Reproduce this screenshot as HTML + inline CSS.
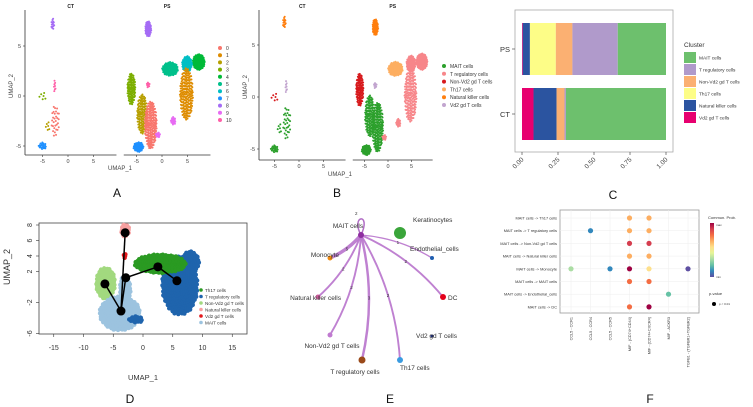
<!DOCTYPE html>
<html><head><meta charset="utf-8">
<style>
html,body{margin:0;padding:0;background:#fff;}
svg{display:block;font-family:"Liberation Sans",sans-serif;}
</style></head>
<body>
<svg id="fig" width="753" height="407" viewBox="0 0 753 407" xmlns="http://www.w3.org/2000/svg">
<g id="pA"></g>
<g id="pB"></g>
<g id="pC"></g>
<g id="pD"></g>
<g id="pE"></g>
<g id="pF"></g>
</svg>
<script>
// ---------- DATA ----------
// Panel A clusters: [panel(0=CT,1=PS), cluster id, cx, cy, rx, ry, n]
const aClusters = [
 [0,8,-3,7.2,0.3,0.6,14],[0,10,-2.6,1.0,0.2,0.6,8],[0,0,-2.5,-2.5,0.8,1.6,30],[0,2,-4,-3,0.4,0.6,6],
 [0,3,-5,0,0.7,0.5,6],[0,7,-5,-5,0.8,0.35,20],
 [1,8,-2.7,6.7,0.6,0.8,70],[1,4,7.2,3.4,1.2,0.8,150],[1,6,4.9,3.2,1.0,0.8,90],[1,5,1.6,2.7,1.6,0.7,110],
 [1,1,4.8,0.2,1.3,2.6,220],[1,3,-6.0,0.7,0.8,1.6,120],[1,2,-3.9,-1.8,1.0,2.0,150],[1,0,-2.2,-2.9,1.2,2.4,230],
 [1,7,-4.6,-5.1,1.0,0.5,60],[1,9,2.2,-2.5,0.5,0.4,20],[1,9,-0.8,-3.9,0.5,0.25,12],[1,10,-2.7,1.1,0.3,0.3,10]
];
const aColors = ["#F8766D","#DE8C00","#B79F00","#7CAE00","#00BA38","#00C08B","#00BFC4","#1E90FF","#A56CF5","#E76BF3","#FF5FA8"];
const aLegend = ["0","1","2","3","4","5","6","7","8","9","10"];
// Panel B cell types
const bTypes = ["MAIT cells","T regulatory cells","Non-Vd2 gd T cells","Th17 cells","Natural killer cells","Vd2 gd T cells"];
const bColors = ["#2ca02c","#f7868a","#d7191c","#fdae61","#ff7f0e","#c2a5cf"];
// cluster -> cell type index
const clusterToType = [0,1,0,2,1,3,1,0,4,1,5];
// Panel C
const cCats = ["PS","CT"];
const cOrder = ["Vd2 gd T cells","Natural killer cells","Th17 cells","Non-Vd2 gd T cells","T regulatory cells","MAIT cells"];
const cColorsOrder = ["#e7006f","#2b54a0","#fdfd87","#fbb072","#b09acb","#6dc06d"];
const cPS = [0.005,0.05,0.18,0.115,0.315,0.335];
const cCT = [0.08,0.16,0.0,0.055,0.01,0.695];
const cTicks = [0,0.25,0.5,0.75,1];
const cTickLabels = ["0.00","0.25","0.50","0.75","1.00"];
const cLegend = ["MAIT cells","T regulatory cells","Non-Vd2 gd T cells","Th17 cells","Natural killer cells","Vd2 gd T cells"];
const cLegendColors = ["#6dc06d","#b09acb","#fbb072","#fdfd87","#2b54a0","#e7006f"];
// Panel D
const dTypes = ["Th17 cells","T regulatory cells","Non-Vd2 gd T cells","Natural killer cells","Vd2 gd T cells","MAIT cells"];
const dColors = ["#2a9a22","#1f64ad","#a2d97f","#f7a0a0","#e3181c","#9cc3df"];
// [type, cx, cy, rx, ry, n]
const dClusters = [
 [1,6.2,0.2,3.0,3.8,320],[1,7.9,3.2,1.5,1.4,90],[0,2.9,3.0,4.3,1.2,240],[2,-6.3,0.5,1.6,2.0,140],
 [5,-3.9,-3.4,3.4,2.2,320],[5,-3.0,-0.3,0.9,1.8,70],[3,-3,7.3,0.7,0.8,30],[4,-3.1,4.0,0.25,0.3,4],[1,-1.2,-4.2,1.2,0.4,20]
];
const dNodesX = [-6.4,-3.7,-3.0,-2.9,2.5,5.7];
const dNodesY = [0.4,-3.1,7.0,1.2,2.6,0.8];
const dEdges = [[0,1],[1,2],[1,3],[3,4],[4,5]];
const dXTicks = [-15,-10,-5,0,5,10,15];
const dYTicks = [-6,-2,2,4,6,8];
// Panel E
const eNodes = ["MAIT cells","Keratinocytes","Endothelial_cells","DC","Vd2 gd T cells","Th17 cells","T regulatory cells","Non-Vd2 gd T cells","Natural killer cells","Monocyte"];
const eX = [361,400,432,443,432,400,362,330,318,330];
const eY = [235,233,258,297,336,360,360,335,297,258];
const eR = [3,6,2,3,1.5,3,3.5,2.5,2.5,2.5];
const eCol = ["#8e2ea0","#3aa53a","#1f5fb0","#e3001b","#1a2a80","#3a9be0","#9a4a1a","#c07ad0","#e062a8","#f08a10"];
const eWeights = [2,0,1,2,0,2,3,2,2,5];
// Panel F
const fRows = ["MAIT cells -> Th17 cells","MAIT cells -> T regulatory cells","MAIT cells -> Non-Vd2 gd T cells","MAIT cells -> Natural killer cells","MAIT cells -> Monocyte","MAIT cells -> MAIT cells","MAIT cells -> Endothelial_cells","MAIT cells -> DC"];
const fCols = ["CCL5 - CCR1","CCL5 - CCR4","CCL5 - CCR5","MIF - (CD74+CD44)","MIF - (CD74+CXCR4)","MIF - ACKR3","TGFB1 - (TGFBR1+TGFBR2)"];
// [row, col, prob 0..1]
const fDots = [[0,3,0.7],[0,4,0.66],[1,1,0.12],[1,3,0.7],[1,4,0.62],[2,3,0.85],[2,4,0.85],[3,3,0.68],[3,4,0.64],
 [4,0,0.35],[4,2,0.13],[4,3,1.0],[4,4,0.55],[4,6,0.02],[5,3,0.76],[5,4,0.76],[6,5,0.2],[7,3,0.75],[7,4,0.95]];

// ---------- HELPERS ----------
const NS="http://www.w3.org/2000/svg";
function mk(tag,attrs,parent){const e=document.createElementNS(NS,tag);for(const k in attrs)e.setAttribute(k,attrs[k]);if(parent)parent.appendChild(e);return e;}
function txt(parent,x,y,s,size,opts){const t=mk("text",Object.assign({x:x,y:y,"font-size":size,fill:"#222"},opts||{}),parent);t.textContent=s;return t;}
function spiral(n,cb){for(let i=0;i<n;i++){const r=Math.sqrt((i+0.5)/n);const th=i*2.39996;cb(r*Math.cos(th),r*Math.sin(th));}}
function spectral(p){const stops=["#5e4fa2","#3288bd","#66c2a5","#abdda4","#e6f598","#fee08b","#fdae61","#f46d43","#d53e4f","#9e0142"];
 const i=Math.min(stops.length-1,Math.round(p*(stops.length-1)));return stops[i];}

// ---------- PANEL A & B ----------
function umapPanel(g,xCT,xPS,x0CT,x0PS,yS,y0,left,bottom,colorFn,legendItems,legendColors,lx,ly,lstep,label,labX,umapY){
 const sx=(p,v)=>p===0?x0CT+xCT*v:x0PS+xPS*v;const sy=v=>y0-yS*v;
 mk("line",{x1:left,y1:10,x2:left,y2:bottom,stroke:"#333","stroke-width":0.8},g);
 const ctEnd=sx(0,9.5),psStart=sx(1,-7.5);
 mk("line",{x1:left,y1:bottom,x2:ctEnd,y2:bottom,stroke:"#333","stroke-width":0.8},g);
 mk("line",{x1:psStart,y1:bottom,x2:sx(1,9.5),y2:bottom,stroke:"#333","stroke-width":0.8},g);
 [5,0,-5].forEach(v=>{mk("line",{x1:left-2,y1:sy(v),x2:left,y2:sy(v),stroke:"#333","stroke-width":0.6},g);txt(g,left-4,sy(v)+2,String(v),5.5,{"text-anchor":"end",fill:"#444"});});
 [0,1].forEach(p=>[-5,0,5].forEach(v=>{mk("line",{x1:sx(p,v),y1:bottom,x2:sx(p,v),y2:bottom+2,stroke:"#333","stroke-width":0.6},g);txt(g,sx(p,v),bottom+8,String(v),5.5,{"text-anchor":"middle",fill:"#444"});}));
 txt(g,(left+ctEnd)/2,8,"CT",5,{"text-anchor":"middle","font-weight":"bold"});
 txt(g,(psStart+sx(1,9.5))/2,8,"PS",5,{"text-anchor":"middle","font-weight":"bold"});
 txt(g,labX,umapY,"UMAP_1",6,{"text-anchor":"middle",fill:"#444"});
 txt(g,left-12,y0-10,"UMAP_2",6,{"text-anchor":"middle",fill:"#444",transform:`rotate(-90 ${left-12} ${y0-10})`});
 aClusters.forEach(c=>{const col=colorFn(c[1]);spiral(c[6],(dx,dy)=>{
   const d=mk("circle",{cx:sx(c[0],c[2]+c[4]*dx),cy:sy(c[3]+c[5]*dy),r:1.0,fill:col},g);
   
   });});
 legendItems.forEach((s,i)=>{mk("circle",{cx:lx,cy:ly+i*lstep,r:2,fill:legendColors[i]},g);txt(g,lx+6,ly+i*lstep+2,s,5,{fill:"#333"});});
 txt(g,labX-3,197,label,12,{"text-anchor":"middle",fill:"#111"});
}
const gA=document.getElementById("pA");
umapPanel(gA,5.1,5.1,68,162,10,96,25,155,k=>aColors[k],aLegend,aColors,220,48,7.2,"A",120,170);
const gB=document.getElementById("pB");
umapPanel(gB,4.9,4.7,299,388,10.4,97,259,160,k=>bColors[clusterToType[k]],bTypes,bColors,444,66,7.8,"B",340,176);

// ---------- PANEL C ----------
const gC=document.getElementById("pC");
const cx0=522,cx1=666;const cxS=v=>cx0+(cx1-cx0)*v;
mk("rect",{x:515,y:10,width:158,height:142,fill:"#fff",stroke:"#aaa","stroke-width":0.8},gC);
const cBarsY=[23,88];
[cPS,cCT].forEach((vals,ci)=>{let acc=0;vals.forEach((v,k)=>{if(v>0){const r=mk("rect",{x:cxS(acc),y:cBarsY[ci],width:cxS(acc+v)-cxS(acc),height:52,fill:cColorsOrder[k]},gC);
 
 }acc+=v;});
 txt(gC,510,cBarsY[ci]+29,cCats[ci],7.5,{"text-anchor":"end",fill:"#333"});
 mk("line",{x1:512,y1:cBarsY[ci]+26,x2:515,y2:cBarsY[ci]+26,stroke:"#333","stroke-width":0.6},gC);});
cTicks.forEach((v,i)=>{mk("line",{x1:cxS(v),y1:152,x2:cxS(v),y2:155,stroke:"#333","stroke-width":0.6},gC);
 txt(gC,cxS(v)+2,160,cTickLabels[i],6.5,{"text-anchor":"end",fill:"#444",transform:`rotate(-45 ${cxS(v)+2} 160)`});});
txt(gC,684,47,"Cluster",6.5,{fill:"#333"});
cLegend.forEach((s,i)=>{mk("rect",{x:684,y:52+i*12,width:12,height:11,fill:cLegendColors[i]},gC);txt(gC,699,59.5+i*12,s,4.8,{fill:"#333"});});
txt(gC,613,199,"C",12,{"text-anchor":"middle",fill:"#111"});

// ---------- PANEL D ----------
const gD=document.getElementById("pD");
const dxS=v=>143+5.95*v, dyS=v=>287-7.75*v;
mk("rect",{x:39,y:223,width:208,height:111,fill:"#fff",stroke:"#444","stroke-width":0.8},gD);
dClusters.forEach(c=>spiral(c[5],(dx,dy)=>{const d=mk("circle",{cx:dxS(c[1]+c[3]*dx),cy:dyS(c[2]+c[4]*dy),r:2.2,fill:dColors[c[0]]},gD);
 
 }));
dEdges.forEach(e=>mk("line",{x1:dxS(dNodesX[e[0]]),y1:dyS(dNodesY[e[0]]),x2:dxS(dNodesX[e[1]]),y2:dyS(dNodesY[e[1]]),stroke:"#000","stroke-width":1.5},gD));
dNodesX.forEach((x,i)=>{const n=mk("circle",{cx:dxS(x),cy:dyS(dNodesY[i]),r:4.5,fill:"#000"},gD);
 
 });
dXTicks.forEach(v=>{mk("line",{x1:dxS(v),y1:334,x2:dxS(v),y2:337,stroke:"#333","stroke-width":0.6},gD);txt(gD,dxS(v),350,String(v),7,{"text-anchor":"middle",fill:"#333"});});
dYTicks.forEach(v=>{mk("line",{x1:36,y1:dyS(v),x2:39,y2:dyS(v),stroke:"#333","stroke-width":0.6},gD);txt(gD,32,dyS(v),String(v),7,{"text-anchor":"middle",fill:"#333",transform:`rotate(-90 32 ${dyS(v)})`});});
txt(gD,143,380,"UMAP_1",7.5,{"text-anchor":"middle",fill:"#333"});
txt(gD,10,267,"UMAP_2",9,{"text-anchor":"middle",fill:"#333",transform:"rotate(-90 10 267)"});
dTypes.forEach((s,i)=>{mk("circle",{cx:201,cy:290+i*6.5,r:1.8,fill:dColors[i]},gD);txt(gD,205,292+i*6.5,s,4.6,{fill:"#333"});});
txt(gD,130,403,"D",12,{"text-anchor":"middle",fill:"#111"});

// ---------- PANEL E ----------
const gE=document.getElementById("pE");
mk("path",{d:`M361 235 C350 215 372 212 361 235`,fill:"none",stroke:"#b06cc4","stroke-width":1.5},gE);
txt(gE,355,215,"2",4.5,{fill:"#333"});
eNodes.forEach((s,i)=>{if(i===0||eWeights[i]===0)return;const w=eWeights[i];
 const mx=(eX[0]+eX[i])/2,my=(eY[0]+eY[i])/2;const dx=eX[i]-eX[0],dy=eY[i]-eY[0];
 const qx=mx+dy*0.12,qy=my-dx*0.12;
 const p=mk("path",{d:`M${eX[0]} ${eY[0]} Q${qx} ${qy} ${eX[i]} ${eY[i]}`,fill:"none",stroke:"#b873cc","stroke-width":0.8+w*0.55,"stroke-opacity":0.9},gE);
 
 
 txt(gE,(mx+qx)/2,(my+qy)/2+2,String(w),4.5,{fill:"#333","text-anchor":"middle"});});
eNodes.forEach((s,i)=>{const c=mk("circle",{cx:eX[i],cy:eY[i],r:eR[i],fill:eCol[i]},gE);
 
 });
const eLab=[[348,228,"middle"],[413,222,"start"],[410,251,"start"],[448,300,"start"],[416,338,"start"],[400,370,"start"],[355,374,"middle"],[332,348,"middle"],[341,300,"end"],[339,257,"end"]];
eNodes.forEach((s,i)=>txt(gE,eLab[i][0],eLab[i][1],s,6.5,{"text-anchor":eLab[i][2],fill:"#333"}));
txt(gE,390,403,"E",12,{"text-anchor":"middle",fill:"#111"});

// ---------- PANEL F ----------
const gF=document.getElementById("pF");
const fx=i=>571+19.5*i, fy=i=>218+12.7*i;
mk("rect",{x:560,y:210,width:139,height:103,fill:"#fff",stroke:"#999","stroke-width":0.8},gF);
fCols.forEach((s,i)=>{mk("line",{x1:fx(i),y1:210,x2:fx(i),y2:313,stroke:"#eee","stroke-width":0.5},gF);
 txt(gF,fx(i)+1.5,317,s,3.8,{"text-anchor":"end",fill:"#333",transform:`rotate(-90 ${fx(i)+1.5} 317)`});});
fRows.forEach((s,i)=>{mk("line",{x1:560,y1:fy(i),x2:699,y2:fy(i),stroke:"#eee","stroke-width":0.5},gF);
 txt(gF,557,fy(i)+1.5,s,3.9,{"text-anchor":"end",fill:"#333"});});
fDots.forEach(d=>{const c=mk("circle",{cx:fx(d[1]),cy:fy(d[0]),r:2.6,fill:spectral(d[2])},gF);
 
 });
txt(gF,708,219,"Commun. Prob.",4,{fill:"#333"});
const defs=mk("defs",{},gF);const lg=mk("linearGradient",{id:"spec",x1:0,y1:1,x2:0,y2:0},defs);
["#5e4fa2","#3288bd","#66c2a5","#abdda4","#e6f598","#fee08b","#fdae61","#f46d43","#d53e4f","#9e0142"].forEach((c,i)=>mk("stop",{offset:i/9,"stop-color":c},lg));
mk("rect",{x:710,y:223,width:4,height:54,fill:"url(#spec)"},gF);
txt(gF,716,226,"max",3,{fill:"#333"});txt(gF,716,278,"min",3,{fill:"#333"});
txt(gF,709,295,"p-value",4,{fill:"#333"});
mk("circle",{cx:714,cy:304,r:2,fill:"#000"},gF);txt(gF,719,305,"p < 0.01",3,{fill:"#333"});
txt(gF,650,403,"F",12,{"text-anchor":"middle",fill:"#111"});
</script>
</body></html>
